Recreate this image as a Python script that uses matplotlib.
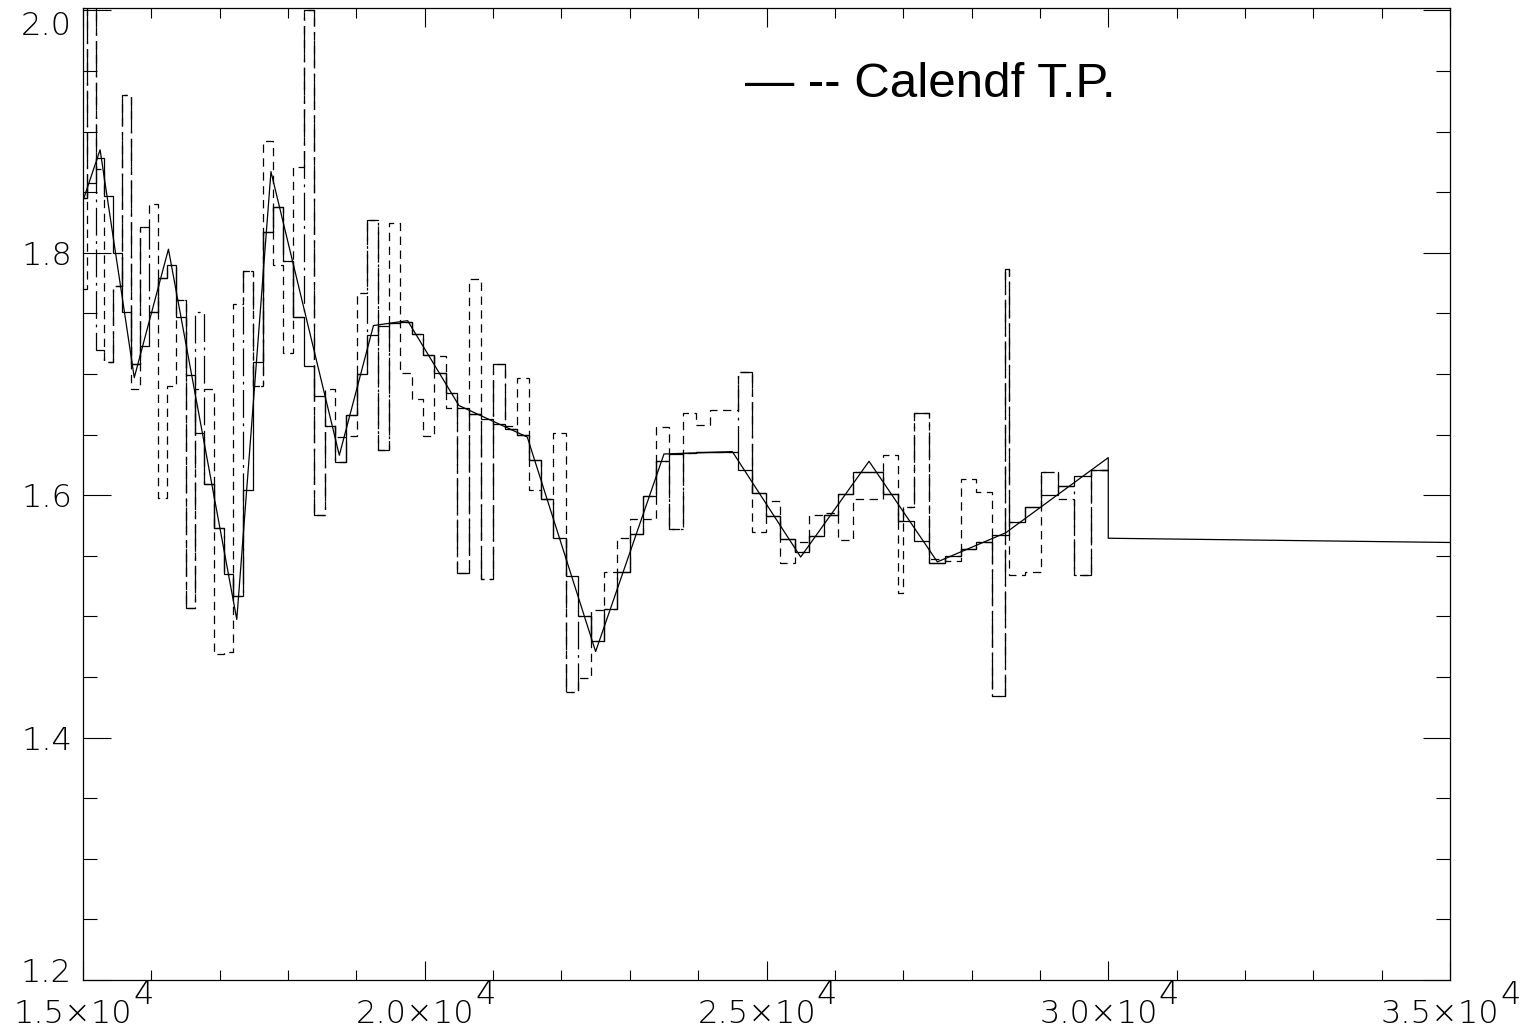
import matplotlib
matplotlib.use("Agg")
import matplotlib.pyplot as plt
import matplotlib.transforms as mtransforms
from matplotlib.ticker import MultipleLocator

plt.rcParams['lines.scale_dashes'] = False

# piecewise-linear reference curve (solid thin line), tail beyond 30000 included
line_x = [15000, 15250, 15750, 16250, 17250, 17750, 18750, 19250, 19750, 20500,
          21500, 22500, 23500, 24500, 25500, 26500, 27500, 28500, 30000, 30000, 35000]
line_y = [1.843, 1.885, 1.697, 1.803, 1.4975, 1.867, 1.633, 1.740, 1.744, 1.674,
          1.648, 1.471, 1.634, 1.636, 1.549, 1.628, 1.545, 1.569, 1.631, 1.5645, 1.561]

# fine group boundaries (solid step curve)
step_edges = [15000, 15060, 15186, 15312, 15440, 15569, 15698, 15829, 15961, 16094,
              16229, 16364, 16500, 16638, 16777, 16917, 17058, 17200, 17343, 17488,
              17634, 17781, 17929, 18078, 18229, 18381, 18534, 18689, 18845, 19002,
              19160, 19320, 19481, 19643, 19807, 19972, 20139, 20307, 20476, 20647,
              20819, 20992, 21167, 21344, 21522, 21701, 21882, 22065, 22249, 22434,
              22621, 22810, 23000, 23192, 23385, 23580, 23777, 23975, 24175, 24376,
              24580, 24784, 24991, 25199, 25410, 25621, 25835, 26050, 26268, 26487,
              26707, 26930, 27155, 27381, 27609, 27840, 28072, 28306, 28542, 28780,
              29020, 29262, 29506, 29752, 30000]
step_vals = [1.845, 1.858, 1.878, 1.847, 1.800, 1.751, 1.708, 1.723, 1.751, 1.779, 1.790,
             1.747, 1.699, 1.651, 1.609, 1.573, 1.535, 1.517, 1.604, 1.710, 1.817,
             1.838, 1.793, 1.747, 1.707, 1.682, 1.657, 1.627, 1.666, 1.700, 1.732,
             1.740, 1.742, 1.743, 1.733, 1.716, 1.701, 1.684, 1.672, 1.667, 1.663,
             1.659, 1.655, 1.650, 1.629, 1.597, 1.565, 1.533, 1.500, 1.480, 1.506,
             1.537, 1.568, 1.599, 1.628, 1.634, 1.635, 1.636, 1.636, 1.636, 1.621,
             1.602, 1.583, 1.564, 1.553, 1.566, 1.584, 1.601, 1.619, 1.619, 1.601,
             1.579, 1.562, 1.544, 1.550, 1.556, 1.561, 1.567, 1.578, 1.590, 1.600,
             1.608, 1.616, 1.621]

# boundaries of the two noisy step curves (two extra narrow pieces)
noisy_edges = [15000, 15060, 15186, 15312, 15440, 15569, 15698, 15829, 15961, 16094,
               16229, 16364, 16500, 16638, 16777, 16917, 17058, 17200, 17343, 17488,
               17634, 17781, 17929, 18078, 18229, 18381, 18534, 18689, 18845, 19002,
               19160, 19320, 19481, 19643, 19807, 19972, 20139, 20307, 20476, 20647,
               20819, 20992, 21167, 21344, 21522, 21701, 21882, 22065, 22249, 22434,
               22621, 22810, 23000, 23192, 23385, 23580, 23777, 23975, 24175, 24376,
               24580, 24784, 24991, 25199, 25410, 25621, 25835, 26050, 26268, 26487,
               26707, 26930, 26990, 27155, 27381, 27609, 27840, 28072, 28306, 28490,
               28542, 28780, 29020, 29262, 29506, 29752, 30000]
dash_vals = [1.770, 2.100, 1.869, 1.710, 1.773, 1.930, 1.688, 1.821, 1.840, 1.598, 1.690,
             1.761, 1.507, 1.688, 1.688, 1.469, 1.471, 1.758, 1.785, 1.690, 1.892,
             1.790, 1.717, 1.871, 2.000, 1.584, 1.688, 1.648, 1.649, 1.767, 1.827,
             1.637, 1.825, 1.701, 1.679, 1.649, 1.715, 1.672, 1.536, 1.778, 1.531,
             1.708, 1.657, 1.697, 1.604, 1.597, 1.651, 1.438, 1.449, 1.505, 1.537,
             1.565, 1.580, 1.580, 1.656, 1.572, 1.668, 1.658, 1.670, 1.670, 1.702,
             1.570, 1.595, 1.544, 1.561, 1.584, 1.585, 1.563, 1.597, 1.597, 1.633,
             1.519, 1.590, 1.668, 1.547, 1.546, 1.613, 1.603, 1.434, 1.787, 1.534,
             1.537, 1.619, 1.597, 1.534, 1.621]
dashdot_vals = [1.845, 2.100, 1.720, 1.710, 1.773, 1.930, 1.708, 1.821, 1.751, 1.779, 1.790,
                1.761, 1.507, 1.751, 1.609, 1.573, 1.535, 1.517, 1.785, 1.690, 1.817,
                1.838, 1.793, 1.747, 2.000, 1.584, 1.657, 1.627, 1.666, 1.700, 1.827,
                1.637, 1.742, 1.743, 1.733, 1.716, 1.701, 1.684, 1.536, 1.667, 1.531,
                1.708, 1.655, 1.650, 1.629, 1.597, 1.565, 1.438, 1.500, 1.480, 1.506,
                1.537, 1.568, 1.599, 1.628, 1.572, 1.635, 1.636, 1.636, 1.636, 1.702,
                1.602, 1.583, 1.564, 1.553, 1.566, 1.584, 1.601, 1.619, 1.619, 1.601,
                1.579, 1.590, 1.668, 1.544, 1.550, 1.556, 1.561, 1.434, 1.787, 1.578,
                1.590, 1.619, 1.608, 1.534, 1.621]

x_ticks = [15000, 20000, 25000, 30000, 35000]
x_mant = ['1.5\u00d710', '2.0\u00d710', '2.5\u00d710', '3.0\u00d710', '3.5\u00d710']
x_exp = ['4', '4', '4', '4', '4']
y_ticks = [1.2, 1.4, 1.6, 1.8, 2.0]
y_labels = ['1.2', '1.4', '1.6', '1.8', '2.0']

fig = plt.figure(figsize=(15.26, 10.32), dpi=100)
ax = fig.add_axes([83 / 1526, 1 - 980 / 1032, 1367 / 1526, 972 / 1032])

lw = 0.9
ax.plot(line_x, line_y, color='k', lw=lw)
ax.stairs(step_vals, step_edges, color='k', lw=lw, baseline=None)
ax.stairs(dash_vals, noisy_edges, color='k', lw=lw, linestyle=(0, (6, 4)), baseline=None)
ax.stairs(dashdot_vals, noisy_edges, color='k', lw=lw, linestyle=(0, (20, 4, 2, 4)),
          baseline=None)

ax.set_xlim(15000, 35000)
ax.set_ylim(1.2, 2.002)

ax.set_xticks(x_ticks, [''] * len(x_ticks))
ax.set_yticks(y_ticks, y_labels)
ax.xaxis.set_minor_locator(MultipleLocator(1000))
ax.yaxis.set_minor_locator(MultipleLocator(0.05))
ax.tick_params(which='both', direction='in', top=True, right=True, width=0.8, colors='k')
ax.tick_params(axis='x', which='major', length=14)
ax.tick_params(axis='x', which='minor', length=7)
ax.tick_params(axis='y', which='major', length=19.8, pad=8, labelsize=23)
ax.tick_params(axis='y', which='minor', length=9.9)
for lab in ax.get_yticklabels():
    lab.set_fontfamily('DejaVu Sans')
    lab.set_fontweight('light')
for sp in ax.spines.values():
    sp.set_linewidth(0.9)

# first and last y labels sit inside the frame, as in the original
ylabs = ax.get_yticklabels()
ylabs[0].set_transform(ylabs[0].get_transform() +
                       mtransforms.ScaledTranslation(0, 7 / 72, fig.dpi_scale_trans))
ylabs[-1].set_transform(ylabs[-1].get_transform() +
                        mtransforms.ScaledTranslation(0, -9 / 72, fig.dpi_scale_trans))

# x labels: mantissa with a full-size raised exponent
for t, m, e in zip(x_ticks, x_mant, x_exp):
    base = ax.annotate(m, xy=(t, 0), xycoords=('data', 'axes fraction'),
                       xytext=(-7, -13.5), textcoords='offset points',
                       ha='center', va='top', fontsize=23, family='DejaVu Sans',
                       fontweight='light', annotation_clip=False)
    ax.annotate(e, xy=(1, 0), xycoords=base, xytext=(0.5, 18),
                textcoords='offset points', ha='left', va='baseline',
                fontsize=23, family='DejaVu Sans', fontweight='light',
                annotation_clip=False)

ax.text(0.484, 0.921, '\u2014 -- Calendf T.P.', transform=ax.transAxes,
        fontsize=35.5, family='Liberation Sans', va='center', ha='left')

fig.savefig('out.png', dpi=100)
